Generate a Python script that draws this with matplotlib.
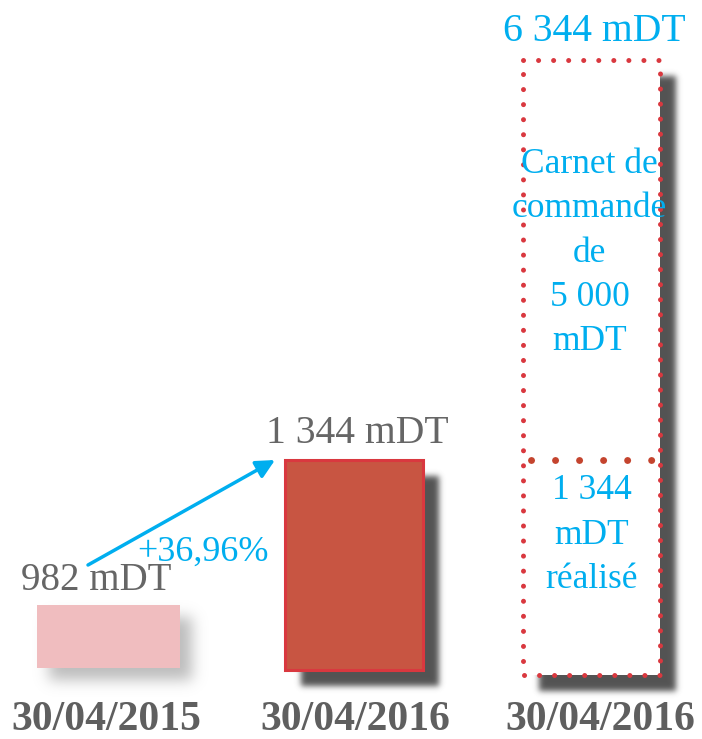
import numpy as np
import matplotlib
matplotlib.use('Agg')
import matplotlib.pyplot as plt

# data
dates = ['30/04/2015', '30/04/2016', '30/04/2016']
values = [982, 1344, 6344]
realise = 1344
carnet = 5000
growth_label = '+36,96%'
# heights as drawn in the infographic (not to scale with values)
drawn_heights = [63, 210, 615]

plt.rcParams['font.family'] = ['Liberation Serif', 'DejaVu Serif']

grey = '#666666'
cyan = '#00aeef'
red_edge = '#d9383f'
red_fill = '#c85542'
pink = '#f0bdbf'


def fmt(v):
    return '{:,}'.format(v).replace(',', ' ')


def gauss_kernel(sigma):
    r = int(3 * sigma) + 1
    x = np.arange(-r, r + 1)
    k = np.exp(-x ** 2 / (2.0 * sigma ** 2))
    return k / k.sum()


def shadow(ax, x0, y0, w, h, dx, dy, sigma, color, alpha):
    pad = int(4 * sigma) + 2
    xs = np.arange(x0 + dx - pad, x0 + dx + w + pad)
    ys = np.arange(y0 + dy - pad, y0 + dy + h + pad)
    X, Y = np.meshgrid(xs + 0.5, ys + 0.5)
    m = ((X > x0 + dx) & (X < x0 + dx + w) & (Y > y0 + dy) & (Y < y0 + dy + h)).astype(float)
    k = gauss_kernel(sigma)
    m = np.apply_along_axis(lambda r: np.convolve(r, k, mode='same'), 1, m)
    m = np.apply_along_axis(lambda c: np.convolve(c, k, mode='same'), 0, m)
    rgb = matplotlib.colors.to_rgb(color)
    img = np.zeros(m.shape + (4,))
    img[..., :3] = rgb
    img[..., 3] = m * alpha
    ax.imshow(img, extent=(xs[0], xs[-1] + 1, ys[0], ys[-1] + 1), origin='lower',
              zorder=1, interpolation='bilinear')


fig = plt.figure(figsize=(7.02, 7.39), dpi=100)
ax = fig.add_axes([0, 0, 1, 1])
ax.set_xlim(0, 702)
ax.set_ylim(-69, 670)
ax.axis('off')

xc = [108.5, 354, 591.5]
widths = [143, 138, 137]
bottoms = [2, 0, -5]

# bar 1
x0 = xc[0] - widths[0] / 2
shadow(ax, x0, bottoms[0], widths[0], drawn_heights[0], 12, -12, 7, '#a0a0a0', 0.7)
ax.bar(xc[0], drawn_heights[0], widths[0], bottom=bottoms[0], color=pink, zorder=3)

# bar 2
x0 = xc[1] - widths[1] / 2
shadow(ax, x0, bottoms[1], widths[1], drawn_heights[1], 16, -16, 3, '#4a4a4a', 0.95)
ax.bar(xc[1], drawn_heights[1], widths[1], bottom=bottoms[1], color=red_fill,
       edgecolor=red_edge, linewidth=2.2, zorder=3)

# bar 3 (dotted frame, white inside)
x0 = xc[2] - widths[2] / 2
shadow(ax, x0, bottoms[2], widths[2], drawn_heights[2], 16, -16, 3, '#4a4a4a', 0.95)
ax.bar(xc[2], drawn_heights[2], widths[2], bottom=bottoms[2], color='white',
       linewidth=0, zorder=3)
x1 = x0 + widths[2]
top3 = bottoms[2] + drawn_heights[2]
frame_x = [x0, x1, x1, x0, x0]
frame_y = [top3, top3, bottoms[2], bottoms[2], top3]
ax.plot(frame_x, frame_y, color=red_edge, lw=3.6, linestyle=(0, (0.01, 3.0)),
        dash_capstyle='round', zorder=4)
# split between realised part and order book
split = bottoms[1] + drawn_heights[1]
ax.plot([x0 + 8, x1 - 5], [split, split], color='#c4442e', lw=5.0,
        linestyle=(0, (0.01, 3.45)), dash_capstyle='round', zorder=4)

# value labels
ax.text(xc[0] - 12, bottoms[0] + drawn_heights[0] + 6, fmt(values[0]) + ' mDT',
        ha='center', va='bottom', fontsize=28, color=grey, zorder=5)
ax.text(xc[1] + 3, bottoms[1] + drawn_heights[1] + 8, fmt(values[1]) + ' mDT',
        ha='center', va='bottom', fontsize=28.5, color=grey, zorder=5)
ax.text(xc[2] + 3, top3 + 10, fmt(values[2]) + ' mDT',
        ha='center', va='bottom', fontsize=28.5, color=cyan, zorder=5)

# inside texts of bar 3
ax.text(xc[2] - 2, 417, 'Carnet de\ncommande\nde\n' + fmt(carnet) + '\nmDT',
        ha='center', va='center', fontsize=25.5, color=cyan, linespacing=1.45, zorder=5)
ax.text(xc[2], 135, fmt(realise) + '\nmDT\nréalisé',
        ha='center', va='center', fontsize=25.5, color=cyan, linespacing=1.45, zorder=5)

# growth arrow
ax.annotate('', xy=(275, 210), xytext=(88, 105),
            arrowprops=dict(arrowstyle='-|>', color=cyan, lw=2.5,
                            mutation_scale=28, shrinkA=0, shrinkB=0), zorder=5)
ax.text(203, 118, growth_label, ha='center', va='center', fontsize=26,
        color=cyan, zorder=5)

# date labels
for x, d in zip([106, 355, 600], dates):
    ax.text(x, -50, d, ha='center', va='center', fontsize=30, fontweight='bold',
            color='#5f5f5f', zorder=5)

fig.savefig('out.png', dpi=100)
